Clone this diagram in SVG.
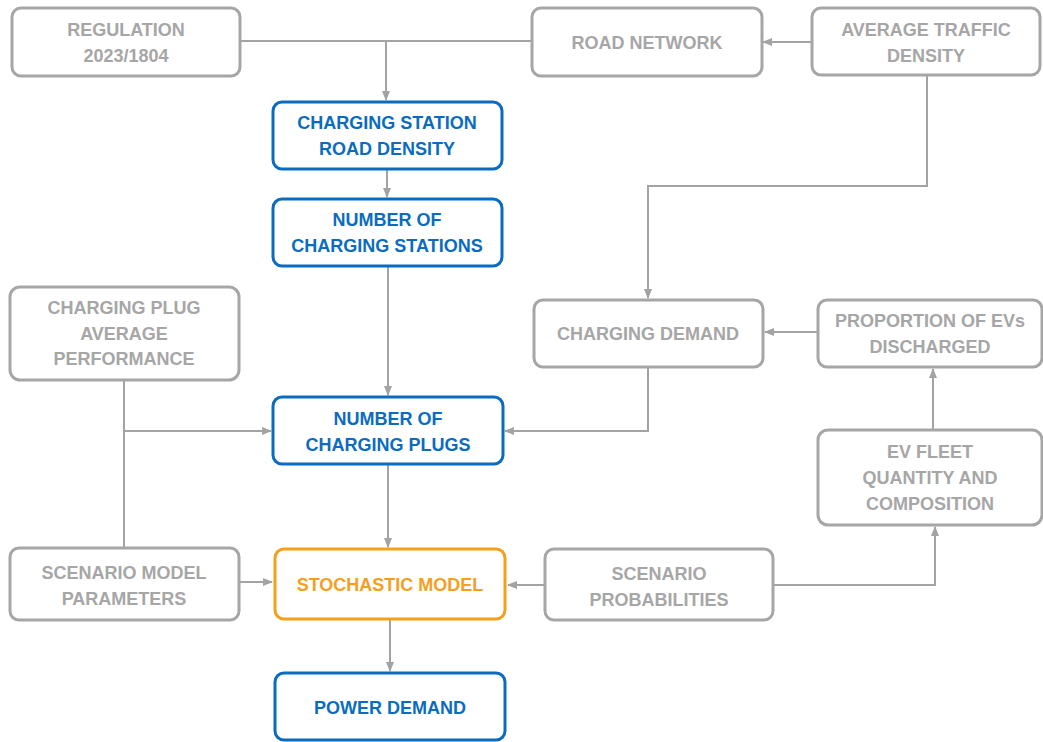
<svg xmlns="http://www.w3.org/2000/svg" width="1043" height="742" viewBox="0 0 1043 742">
<defs>
<style>
.box{fill:#fff;stroke-width:3;}
.g{stroke:#a6a6a6;}
.b{stroke:#0a6cc0;}
.o{stroke:#f5a01a;}
text{font-family:"Liberation Sans",Arial,sans-serif;font-weight:bold;font-size:18px;text-anchor:middle;}
.tg{fill:#a6a6a6;}
.tb{fill:#0a6cc0;}
.to{fill:#f5a01a;}
.c{fill:none;stroke:#a3a3a3;stroke-width:2;}
</style>
<marker id="ah" markerWidth="10" markerHeight="10" refX="9" refY="5" orient="auto" markerUnits="userSpaceOnUse">
<path d="M0,1 L10,5 L0,9 Z" fill="#a3a3a3"/>
</marker>
</defs>
<rect width="1043" height="742" fill="#fff"/>
<g id="connectors">
<path class="c" d="M240,41 H532"/>
<path class="c" d="M386,41 V100" marker-end="url(#ah)"/>
<path class="c" d="M812,42 H763" marker-end="url(#ah)"/>
<path class="c" d="M387,169 V197" marker-end="url(#ah)"/>
<path class="c" d="M927,75 V186 H648 V298" marker-end="url(#ah)"/>
<path class="c" d="M388,266 V395" marker-end="url(#ah)"/>
<path class="c" d="M124,380 V548"/>
<path class="c" d="M124,431 H271" marker-end="url(#ah)"/>
<path class="c" d="M648,367 V431 H505" marker-end="url(#ah)"/>
<path class="c" d="M818,332 H765" marker-end="url(#ah)"/>
<path class="c" d="M933,430 V369" marker-end="url(#ah)"/>
<path class="c" d="M388,464 V547" marker-end="url(#ah)"/>
<path class="c" d="M240,582 H272" marker-end="url(#ah)"/>
<path class="c" d="M545,585 H508" marker-end="url(#ah)"/>
<path class="c" d="M773,585 H935 V527" marker-end="url(#ah)"/>
<path class="c" d="M390,619 V671" marker-end="url(#ah)"/>
</g>
<g id="regulation">
<rect class="box g" x="12" y="8" width="228" height="68" rx="9"/>
<text class="tg" x="126" y="35.5">REGULATION</text>
<text class="tg" x="126" y="61.5">2023/1804</text>
</g>
<g id="road-network">
<rect class="box g" x="532" y="8" width="230" height="68" rx="9"/>
<text class="tg" x="647" y="48.5">ROAD NETWORK</text>
</g>
<g id="average-traffic-density">
<rect class="box g" x="812" y="8" width="228" height="67" rx="9"/>
<text class="tg" x="926" y="35.5">AVERAGE TRAFFIC</text>
<text class="tg" x="926" y="61.5">DENSITY</text>
</g>
<g id="charging-station-road-density">
<rect class="box b" x="273" y="102" width="229" height="67" rx="9"/>
<text class="tb" x="387" y="128.5">CHARGING STATION</text>
<text class="tb" x="387" y="154.5">ROAD DENSITY</text>
</g>
<g id="number-of-charging-stations">
<rect class="box b" x="273" y="199" width="229" height="67" rx="9"/>
<text class="tb" x="387" y="225.5">NUMBER OF</text>
<text class="tb" x="387" y="251.5">CHARGING STATIONS</text>
</g>
<g id="charging-plug-average-performance">
<rect class="box g" x="10" y="287" width="229" height="93" rx="10"/>
<text class="tg" x="124" y="313.5">CHARGING PLUG</text>
<text class="tg" x="124" y="339.5">AVERAGE</text>
<text class="tg" x="124" y="364.5">PERFORMANCE</text>
</g>
<g id="charging-demand">
<rect class="box g" x="534" y="300" width="229" height="67" rx="9"/>
<text class="tg" x="648" y="339.5">CHARGING DEMAND</text>
</g>
<g id="proportion-of-evs-discharged">
<rect class="box g" x="818" y="300" width="224" height="67" rx="9"/>
<text class="tg" x="930" y="326.5">PROPORTION OF EVs</text>
<text class="tg" x="930" y="352.5">DISCHARGED</text>
</g>
<g id="number-of-charging-plugs">
<rect class="box b" x="273" y="397" width="230" height="67" rx="9"/>
<text class="tb" x="388" y="424.5">NUMBER OF</text>
<text class="tb" x="388" y="450.5">CHARGING PLUGS</text>
</g>
<g id="ev-fleet">
<rect class="box g" x="818" y="430" width="224" height="95" rx="10"/>
<text class="tg" x="930" y="457.5">EV FLEET</text>
<text class="tg" x="930" y="483.5">QUANTITY AND</text>
<text class="tg" x="930" y="509.5">COMPOSITION</text>
</g>
<g id="scenario-model-parameters">
<rect class="box g" x="10" y="548" width="229" height="72" rx="9"/>
<text class="tg" x="124" y="578.5">SCENARIO MODEL</text>
<text class="tg" x="124" y="604.5">PARAMETERS</text>
</g>
<g id="stochastic-model">
<rect class="box o" x="275" y="549" width="230" height="70" rx="9"/>
<text class="to" x="390" y="590.5">STOCHASTIC MODEL</text>
</g>
<g id="scenario-probabilities">
<rect class="box g" x="545" y="549" width="228" height="71" rx="9"/>
<text class="tg" x="659" y="579.5">SCENARIO</text>
<text class="tg" x="659" y="605.5">PROBABILITIES</text>
</g>
<g id="power-demand">
<rect class="box b" x="275" y="673" width="230" height="67" rx="9"/>
<text class="tb" x="390" y="713.5">POWER DEMAND</text>
</g>
</svg>
